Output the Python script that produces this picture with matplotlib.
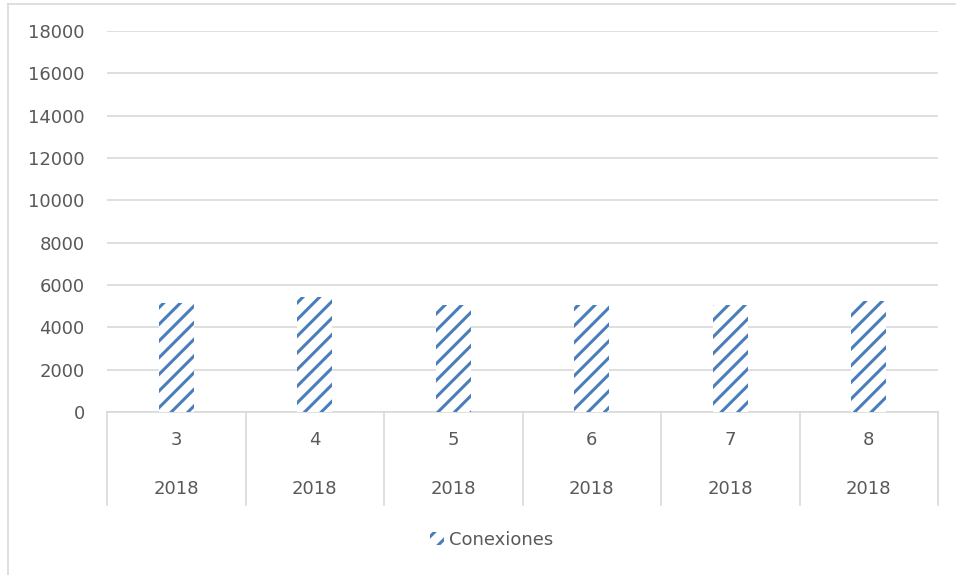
import numpy as np
import matplotlib.pyplot as plt
from matplotlib.lines import Line2D

meses = ["3", "4", "5", "6", "7", "8"]
anos = ["2018", "2018", "2018", "2018", "2018", "2018"]
conexiones = [5150, 5430, 5070, 5070, 5060, 5230]

azul = "#4a7ebb"
gris_texto = "#595959"
gris_linea = "#d9d9d9"

plt.rcParams['hatch.linewidth'] = 2.2
plt.rcParams['font.family'] = ['DejaVu Sans']

W, H = 956, 575
fig = plt.figure(figsize=(W / 100, H / 100), dpi=100)

# area del grafico en pixeles
x0, x1 = 107, 938
y0, y1 = 412, 31
ax = fig.add_axes([x0 / W, 1 - y0 / H, (x1 - x0) / W, (y0 - y1) / H])

x = np.arange(len(meses))
ax.bar(x, conexiones, width=0.25, facecolor="white", edgecolor=azul,
       linewidth=0, hatch="//", label="Conexiones", zorder=3)

ax.set_xlim(-0.5, len(meses) - 0.5)
ax.set_ylim(0, 18000)
ax.set_yticks(np.arange(0, 18001, 2000))
ax.tick_params(axis="y", length=0, pad=16, labelsize=13, labelcolor=gris_texto)
ax.set_xticks([])
ax.grid(axis="y", color=gris_linea, linewidth=1.2, zorder=0)
for s in ["top", "right", "left"]:
    ax.spines[s].set_visible(False)
ax.spines["bottom"].set_color(gris_linea)
ax.spines["bottom"].set_linewidth(1.2)

# eje de categorias de dos niveles
alto = (y0 - y1)
abajo = -(505 - y0) / alto
tr = ax.get_xaxis_transform()
for b in np.arange(-0.5, len(meses), 1.0):
    ax.add_line(Line2D([b, b], [0, abajo], transform=tr, color=gris_linea,
                       linewidth=1.2, clip_on=False))
for i in range(len(meses)):
    ax.text(i, -(440 - y0) / alto, meses[i], transform=tr, ha="center", va="center",
            fontsize=13, color=gris_texto)
    ax.text(i, -(489 - y0) / alto, anos[i], transform=tr, ha="center", va="center",
            fontsize=13, color=gris_texto)

fig.legend(loc="center", bbox_to_anchor=(492 / W, 1 - 540 / H), frameon=False,
           handlelength=0.75, handleheight=0.75, handletextpad=0.3,
           fontsize=13, labelcolor=gris_texto)

# borde exterior
fig.add_artist(Line2D([8 / W, 1], [1 - 4 / H, 1 - 4 / H], transform=fig.transFigure,
                      color=gris_linea, linewidth=1.2))
fig.add_artist(Line2D([8 / W, 8 / W], [0, 1 - 4 / H], transform=fig.transFigure,
                      color=gris_linea, linewidth=1.2))

fig.savefig("out.png", dpi=100)
